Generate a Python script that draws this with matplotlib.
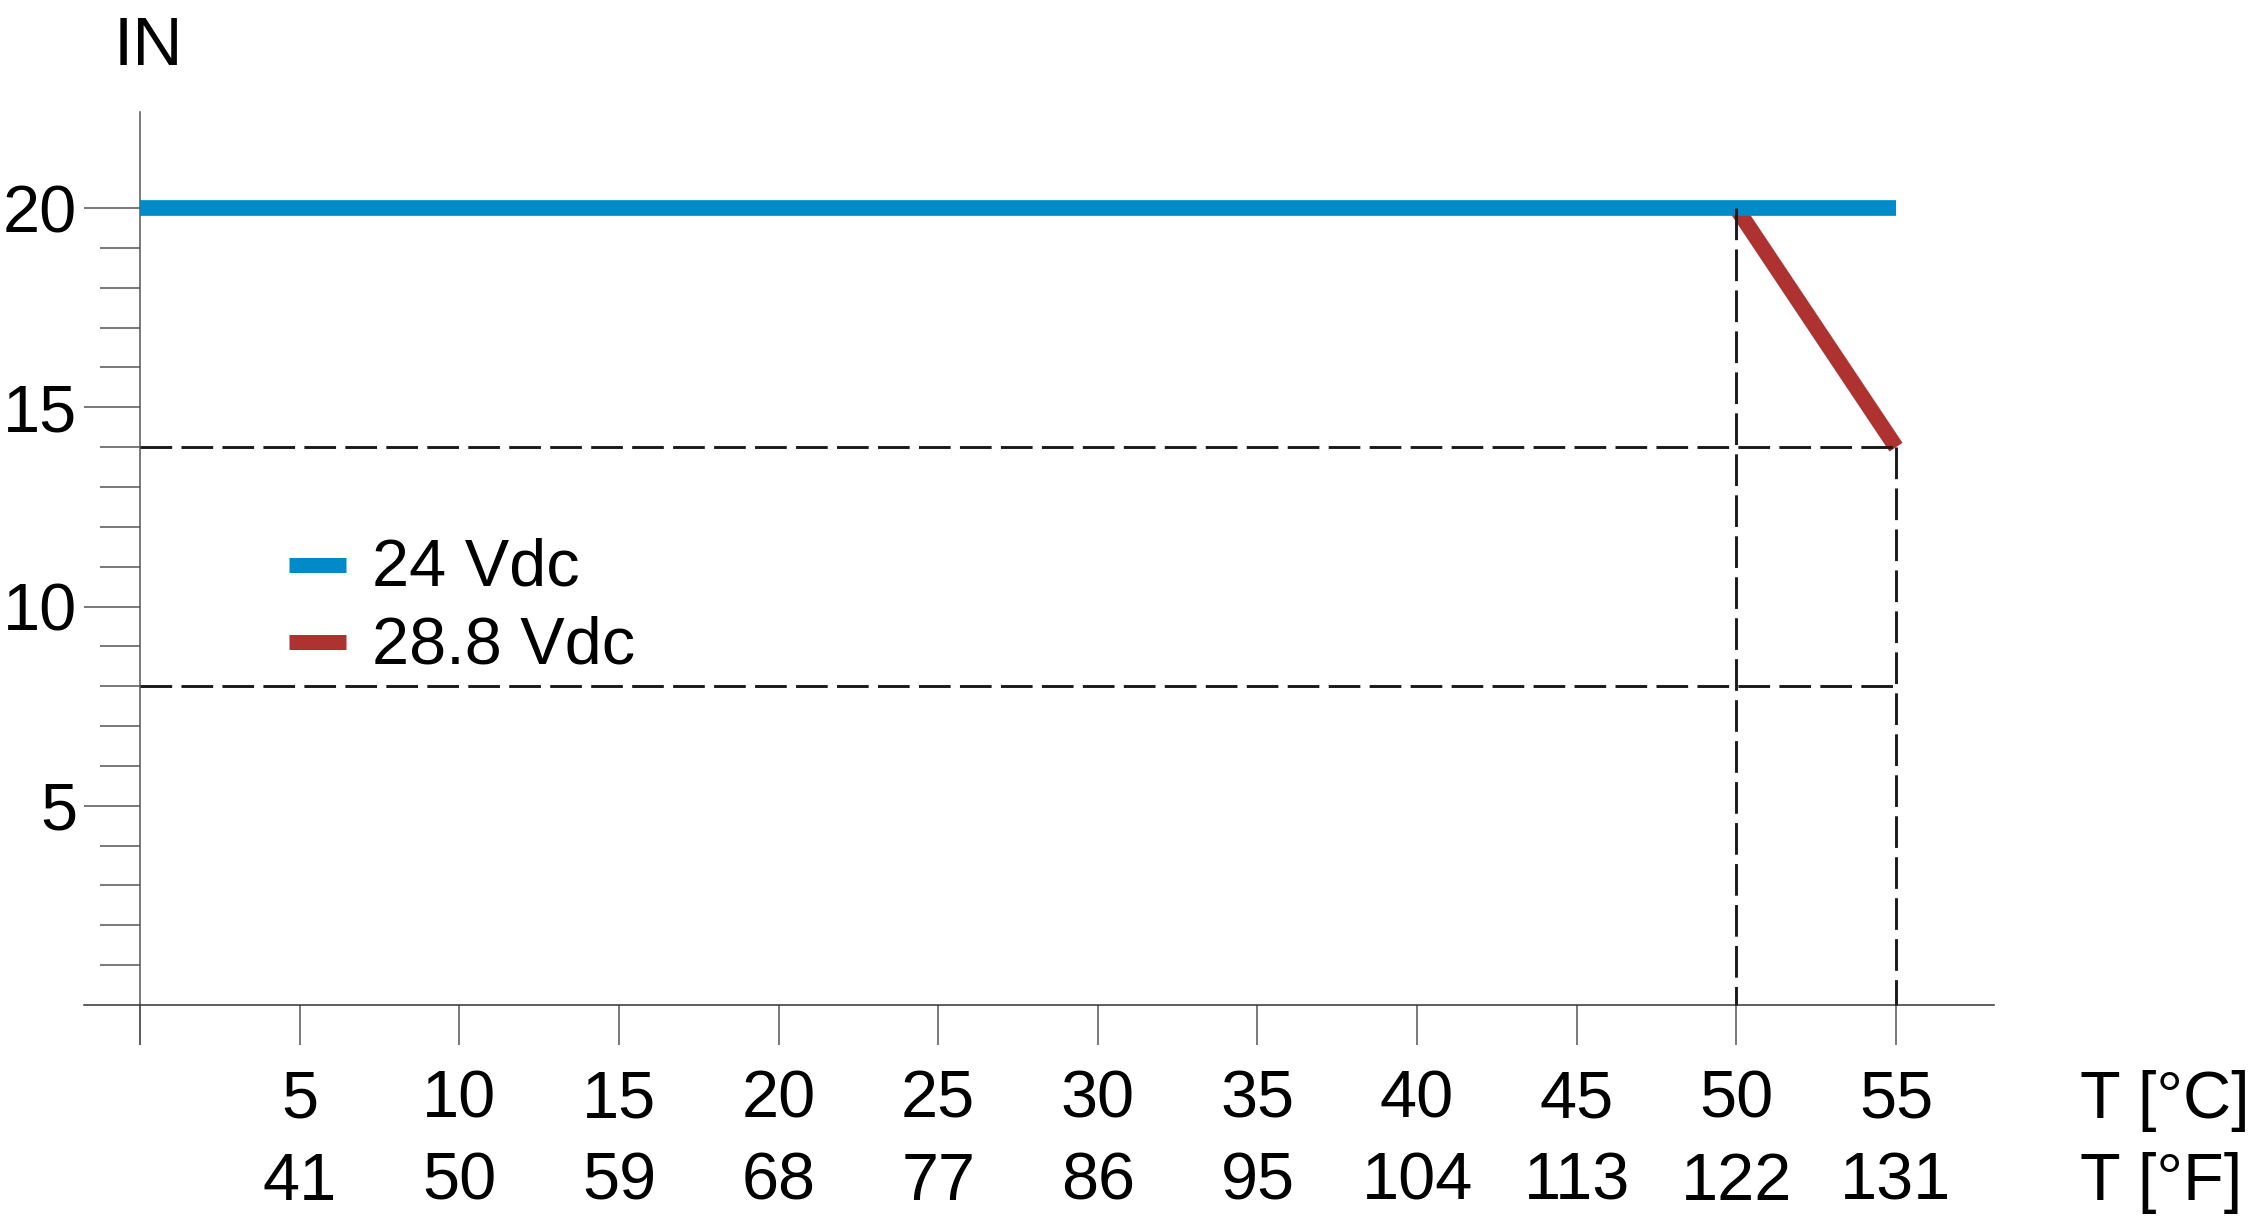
import matplotlib
matplotlib.use("Agg")
import matplotlib.pyplot as plt
from matplotlib import transforms

plt.rcParams['font.family'] = ['Liberation Sans', 'DejaVu Sans']

# ---- data ----
temp_24 = [0, 55]
cur_24 = [20, 20]
temp_288 = [50, 55]
cur_288 = [20, 14]
ref_h_levels = [14, 8]          # dashed horizontal reference levels
ref_h_xend = 55
ref_v = [(50, 20), (55, 14)]    # dashed vertical refs: (temperature, top current)
celsius = [5, 10, 15, 20, 25, 30, 35, 40, 45, 50, 55]
fahrenheit = [41, 50, 59, 68, 77, 86, 95, 104, 113, 122, 131]
y_major = [5, 10, 15, 20]
y_minor = [1, 2, 3, 4, 6, 7, 8, 9, 11, 12, 13, 14, 16, 17, 18, 19]
labels = ["24 Vdc", "28.8 Vdc"]

BLUE = "#008AC7"
RED = "#AD3230"
AX = "#555555"
W, H = 2256, 1224

fig = plt.figure(figsize=(W / 100, H / 100), dpi=100)
left_px, right_px, top_px, bot_px = 84, 1994, 111.7, 1044
ax = fig.add_axes([left_px / W, 1 - bot_px / H, (right_px - left_px) / W, (bot_px - top_px) / H])
ax.set_xlim(-1.754, 58.07)
ax.set_ylim(-0.979, 22.42)

for s in ['top', 'right']:
    ax.spines[s].set_visible(False)
ax.spines['left'].set_position(('data', 0))
ax.spines['bottom'].set_position(('data', 0))
ax.spines['left'].set_color(AX)
ax.spines['bottom'].set_color("#333333")
ax.spines['left'].set_linewidth(1.1)
ax.spines['bottom'].set_linewidth(1.1)

lw_line = 11.3
ax.plot(temp_288, cur_288, color=RED, lw=lw_line, solid_capstyle='butt', zorder=3, label=labels[1])
ax.plot(temp_24, cur_24, color=BLUE, lw=lw_line, solid_capstyle='butt', zorder=4, label=labels[0])

dlw = 2.1
dash = (0, (22.8 / dlw, 6.7 / dlw))
for lvl in ref_h_levels:
    ax.plot([0, ref_h_xend], [lvl, lvl], color="#1a1a1a", lw=dlw, linestyle=dash, zorder=5)
for xv, ytop in ref_v:
    ax.plot([xv, xv], [ytop, 0], color="#1a1a1a", lw=dlw, linestyle=dash, zorder=5)

# x ticks
ax.set_xticks([0] + celsius)
ax.set_xticklabels([])
ax.tick_params(axis='x', direction='out', length=28.8, width=1.1, color=AX)
# y ticks
ax.set_yticks(y_major)
ax.set_yticklabels([str(v) for v in y_major], fontsize=48)
ax.set_yticks(y_minor, minor=True)
ax.tick_params(axis='y', which='major', direction='out', length=40.3, width=1.1, color=AX, pad=5)
ax.tick_params(axis='y', which='minor', direction='out', length=28.8, width=1.1, color=AX)

trans = transforms.blended_transform_factory(ax.transData, fig.transFigure)
for c, f in zip(celsius, fahrenheit):
    ax.text(c, 1 - 1118 / H, str(c), transform=trans, ha='center', va='baseline', fontsize=48)
    ax.text(c, 1 - 1200 / H, str(f), transform=trans, ha='center', va='baseline', fontsize=48)

fig.text(2080 / W, 1 - 1118 / H, "T [°C]", ha='left', va='baseline', fontsize=48)
fig.text(2080 / W, 1 - 1200 / H, "T [°F]", ha='left', va='baseline', fontsize=48)
fig.text(148 / W, 1 - 65 / H, "IN", ha='center', va='baseline', fontsize=50)

handles, labs = ax.get_legend_handles_labels()
order = [1, 0]
leg = ax.legend([handles[i] for i in order], [labs[i] for i in order],
                loc='upper left', bbox_to_anchor=(289 / W, 1 - 538 / H),
                bbox_transform=fig.transFigure, frameon=False, fontsize=48,
                handlelength=0.855, handletextpad=0.39, labelspacing=0.225,
                borderpad=0, borderaxespad=0, handleheight=0.5)
for lh in leg.get_lines():
    lh.set_linewidth(10.8)

fig.savefig("out.png", dpi=100)
